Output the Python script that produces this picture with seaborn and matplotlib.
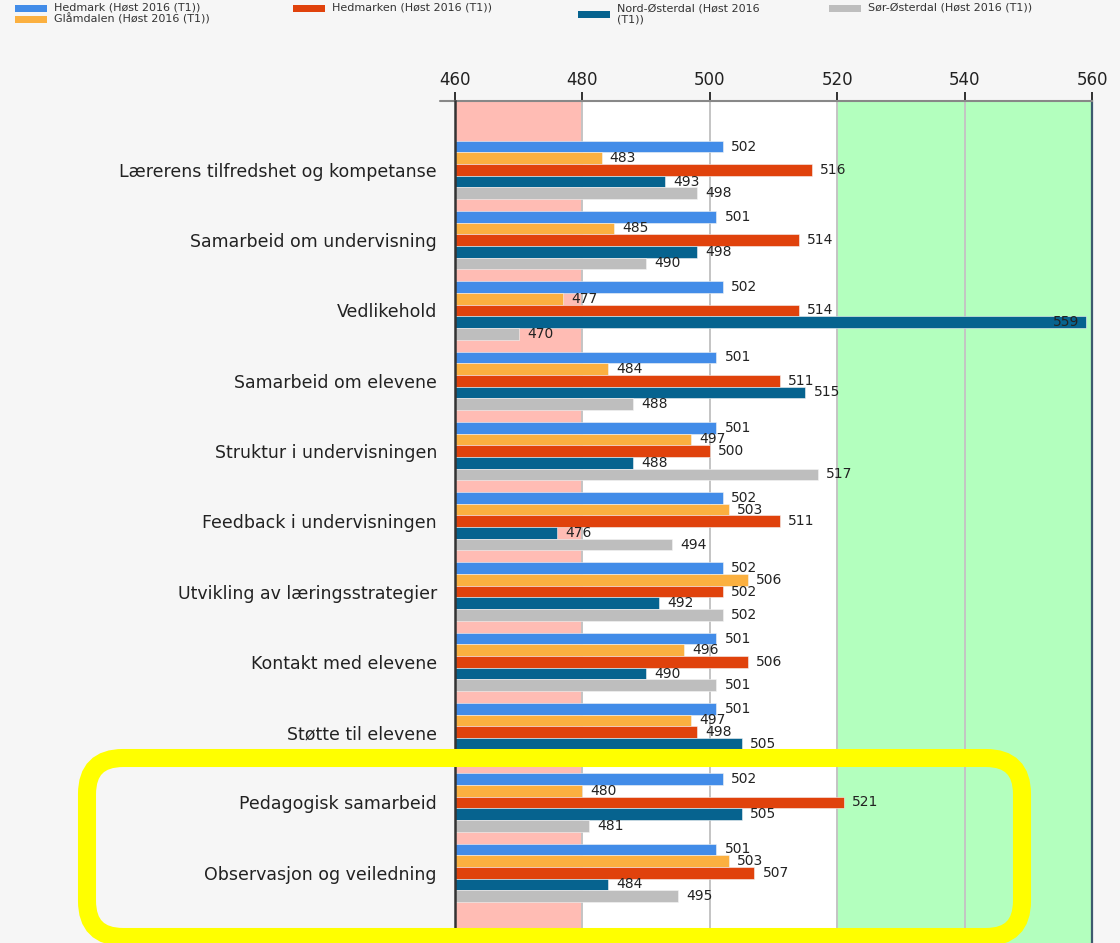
import pandas as pd
import matplotlib.pyplot as plt
import seaborn as sns
from matplotlib.patches import Rectangle, FancyBboxPatch

# Data
categories = [
    "Lærerens tilfredshet og kompetanse",
    "Samarbeid om undervisning",
    "Vedlikehold",
    "Samarbeid om elevene",
    "Struktur i undervisningen",
    "Feedback i undervisningen",
    "Utvikling av læringsstrategier",
    "Kontakt med elevene",
    "Støtte til elevene",
    "Pedagogisk samarbeid",
    "Observasjon og veiledning",
]
series = [
    "Hedmark (Høst 2016 (T1))",
    "Glåmdalen (Høst 2016 (T1))",
    "Hedmarken (Høst 2016 (T1))",
    "Nord-Østerdal (Høst 2016 (T1))",
    "Sør-Østerdal (Høst 2016 (T1))",
]
hedmark = [502, 501, 502, 501, 501, 502, 502, 501, 501, 502, 501]
glamdalen = [483, 485, 477, 484, 497, 503, 506, 496, 497, 480, 503]
hedmarken = [516, 514, 514, 511, 500, 511, 502, 506, 498, 521, 507]
nord_osterdal = [493, 498, 559, 515, 488, 476, 492, 490, 505, 505, 484]
sor_osterdal = [498, 490, 470, 488, 517, 494, 502, 501, 500, 481, 495]  # Støtte value hidden under the frame

colors = ["#428ce8", "#fbb040", "#e0420c", "#06638f", "#bebebe"]

rows = []
for name, vals in zip(series, [hedmark, glamdalen, hedmarken, nord_osterdal, sor_osterdal]):
    for cat, v in zip(categories, vals):
        rows.append({"kategori": cat, "verdi": v, "område": name})
df = pd.DataFrame(rows)

sns.set_style("white")
plt.rcParams['font.family'] = ['DejaVu Sans']

W, H = 1120, 943
fig = plt.figure(figsize=(W / 100, H / 100), dpi=100)
fig.patch.set_facecolor("#f6f6f6")
ax = fig.add_axes([455 / W, 0, (1092 - 455) / W, (H - 101) / H])

ax.axvspan(460, 480, color="#ffbcb4", zorder=0, lw=0)
ax.axvspan(520, 560, color="#b3ffbe", zorder=0, lw=0)

sns.barplot(data=df, y="kategori", x="verdi", hue="område", orient="h",
            palette=colors, saturation=1, width=0.83, ax=ax, legend=False,
            edgecolor="#f4f4f4", linewidth=0.4, zorder=3)

ax.set_xlim(460, 560)
ax.set_ylim(11.0, -0.98)
ax.set_xlabel("")
ax.set_ylabel("")

# value labels
for cont in ax.containers:
    for bar in cont:
        v = bar.get_width()
        y = bar.get_y() + bar.get_height() / 2
        if v > 550:
            ax.text(v - 1.0, y, f"{v:.0f}", ha="right", va="center", fontsize=10,
                    color="#222222", zorder=5)
        else:
            ax.text(v + 1.3, y, f"{v:.0f}", ha="left", va="center", fontsize=10,
                    color="#222222", zorder=5)

# axis styling
ax.xaxis.tick_top()
ax.set_xticks([460, 480, 500, 520, 540, 560])
ax.tick_params(axis="x", which="major", length=6.5, width=1.3, color="#222222",
               labelsize=12, labelcolor="#222222", pad=2)
ax.set_yticks(range(len(categories)))
ax.set_yticklabels(categories, fontsize=12.5, color="#222222")
ax.tick_params(axis="y", which="major", length=0, pad=13)
ax.set_yticks([1, 3, 5, 7, 9], minor=True)
ax.tick_params(axis="y", which="minor", length=11, width=1, color="#333333")

ax.grid(True, axis="x", which="major", color="#c4c4c4", lw=1.4)
ax.grid(True, axis="y", which="minor", color="#c8c8c8", lw=1.0)
ax.set_axisbelow(True)

ax.spines["bottom"].set_visible(False)
ax.spines["left"].set_color("#333333")
ax.spines["left"].set_linewidth(1.8)
ax.spines["left"].set_zorder(6)
ax.spines["top"].set_color("#888888")
ax.spines["top"].set_linewidth(1.5)
ax.spines["right"].set_color("#3d5a6e")
ax.spines["right"].set_linewidth(1.6)
ax.set_facecolor("white")
# top axis line runs a little past the left edge
ax.plot([-0.024, 0], [1, 1], transform=ax.transAxes, color="#888888", lw=1.5,
        clip_on=False)


# legend drawn at the top left
def px(x, y):
    return x / W, 1 - y / H


leg_pos = [(15, 8), (15, 19), (293, 8), (578, 14), (829, 8)]
leg_text = [series[0], series[1], series[2], "Nord-Østerdal (Høst 2016\n(T1))", series[4]]
for (lx, ly), txt, c in zip(leg_pos, leg_text, colors):
    x0, y0 = px(lx, ly + 3.5)
    fig.add_artist(Rectangle((x0, y0), 32 / W, 7 / H, transform=fig.transFigure,
                             color=c, lw=0))
    ty = ly if "\n" not in txt else 14
    tx, tyy = px(lx + 39, ty)
    fig.text(tx, tyy, txt, fontsize=8, color="#333333", va="center", ha="left",
             linespacing=1.1)

# yellow highlight frame
frame = FancyBboxPatch((87 / 100, (H - 937) / 100), (1022 - 87) / 100, (937 - 758) / 100,
                       boxstyle="round,pad=0,rounding_size=0.36",
                       transform=fig.dpi_scale_trans, fill=False,
                       edgecolor="#ffff00", lw=13, zorder=10)
fig.add_artist(frame)

plt.savefig("out.png", dpi=100, facecolor=fig.get_facecolor())
